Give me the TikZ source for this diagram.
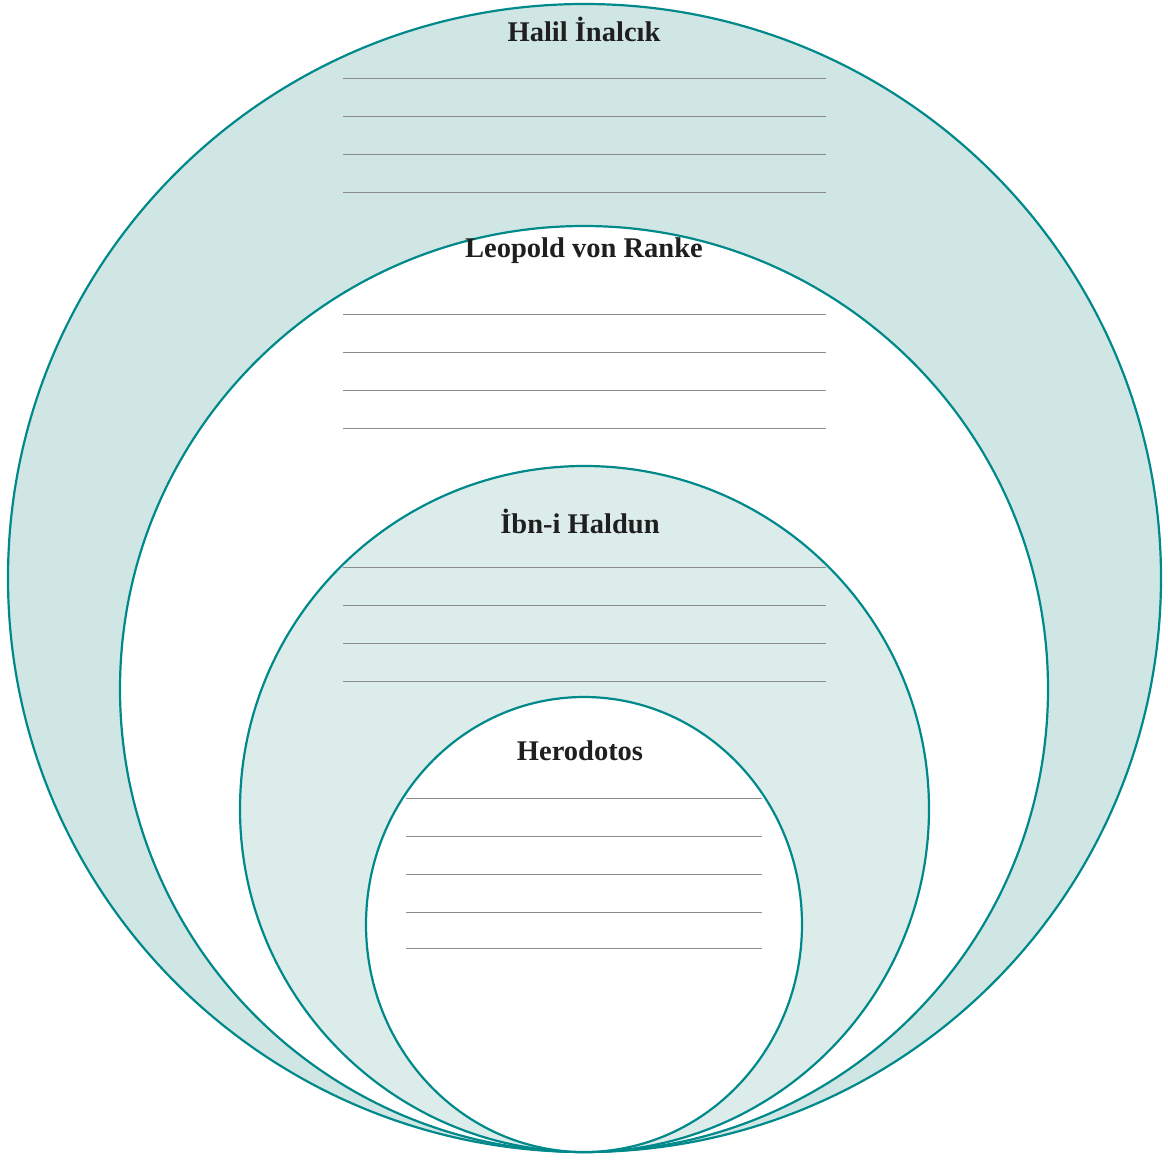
\documentclass[tikz,border=0pt]{standalone}
\usepackage{fontspec}
\setmainfont{Liberation Serif}
\usetikzlibrary{positioning}
\definecolor{ringteal}{RGB}{0,137,138}
\definecolor{ringfill}{RGB}{208,230,228}
\definecolor{ringpale}{RGB}{219,236,234}
\definecolor{rulegray}{RGB}{140,140,140}

\begin{document}
\begin{tikzpicture}[x=1pt,y=-1pt,
    ring/.style={draw=ringteal,line width=2.2pt},
    rule/.style={draw=rulegray,line width=0.9pt},
    every node/.style={font=\bfseries\fontsize{28.5}{32}\selectfont,text=black!88}]
      \useasboundingbox (0,0) rectangle (1168,1161);
      % Rings
      \draw[ring,fill=ringfill] (584.5,578) ellipse (576.5 and 574);
      \draw[ring,fill=white]    (584,689)   ellipse (464 and 463);
      \draw[ring,fill=ringpale] (584.5,809) ellipse (344.5 and 343);
      \draw[ring,fill=white]    (584,924.5) ellipse (218 and 227.5);
      % Titles
      \node (inalcik) at (584,29)  {Halil İnalcık};
      \node (ranke)   at (584,251) {Leopold von Ranke};
      \node (haldun)  at (580,521) {İbn-i Haldun};
      \node (herodot) at (580,751) {Herodotos};
      % Writing lines
      \foreach \y in {78,116,154,192,314,352,390,428,567,605,643,681}
        \draw[rule] (343,\y) -- (826,\y);
      \foreach \y in {798,836,874,912,948}
        \draw[rule] (406,\y) -- (762,\y);
    \end{tikzpicture}
\end{document}
